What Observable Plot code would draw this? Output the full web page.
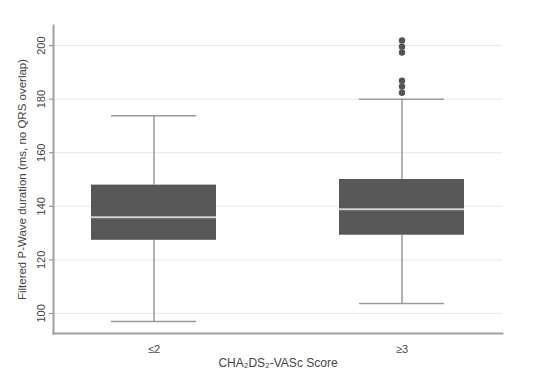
<!DOCTYPE html>
<html>
<head>
<meta charset="utf-8">
<script src="https://cdn.jsdelivr.net/npm/d3@7"></script>
<script src="https://cdn.jsdelivr.net/npm/@observablehq/plot@0.6"></script>
<style>
  html, body { margin: 0; padding: 0; background: #fff; }
  #chart svg { display: block; }
</style>
</head>
<body>
<div id="chart"></div>
<script>
const categories = ["≤2", "≥3"];
const q1 = [127.3, 129.2];
const median = [135.9, 138.9];
const q3 = [147.9, 150.0];
const whiskerLow = [97.0, 103.7];
const whiskerHigh = [173.8, 180.0];
const outlierGroup = ["≥3", "≥3", "≥3", "≥3", "≥3", "≥3"];
const outlierValue = [201.9, 199.6, 197.4, 186.9, 184.7, 182.4];
const yTicks = [100, 120, 140, 160, 180, 200];
const yTitle = "Filtered P-Wave duration (ms, no QRS overlap)";
const xTitle = "CHA₂DS₂-VASc Score";

const boxes = categories.map((c, i) => ({
  cat: c, q1: q1[i], med: median[i], q3: q3[i], lo: whiskerLow[i], hi: whiskerHigh[i]
}));
const outliers = outlierValue.map((v, i) => ({cat: outlierGroup[i], v}));

const font = "'Liberation Sans', Arial, sans-serif";

const chart = Plot.plot({
  width: 550,
  height: 390,
  marginLeft: 53,
  marginRight: 48,
  marginTop: 25,
  marginBottom: 57,
  style: {fontFamily: font, fontSize: "11px", color: "#444", background: "#fff"},
  x: {type: "band", domain: categories, paddingInner: 0.496, paddingOuter: 0.153},
  y: {domain: [92.5, 207.5]},
  marks: [
    Plot.gridY(yTicks, {stroke: "#e8e8e8", strokeOpacity: 1, strokeWidth: 1}),
    Plot.ruleX(boxes, {x: "cat", y1: "lo", y2: "q1", stroke: "#9a9a9a", strokeWidth: 1.5}),
    Plot.ruleX(boxes, {x: "cat", y1: "q3", y2: "hi", stroke: "#9a9a9a", strokeWidth: 1.5}),
    Plot.tickY(boxes, {x: "cat", y: "lo", stroke: "#9a9a9a", strokeWidth: 1.5, insetLeft: 20, insetRight: 20}),
    Plot.tickY(boxes, {x: "cat", y: "hi", stroke: "#9a9a9a", strokeWidth: 1.5, insetLeft: 20, insetRight: 20}),
    Plot.barY(boxes, {x: "cat", y1: "q1", y2: "q3", fill: "#575757"}),
    Plot.tickY(boxes, {x: "cat", y: "med", stroke: "#d0d0d0", strokeWidth: 2}),
    Plot.dot(outliers, {x: "cat", y: "v", r: 3.2, fill: "#555", stroke: "none"}),
    Plot.frame({anchor: "left", stroke: "#a0a0a0", strokeWidth: 2}),
    Plot.frame({anchor: "bottom", stroke: "#a0a0a0", strokeWidth: 2}),
    Plot.axisY(yTicks, {
      tickSize: 4, tickPadding: 5, tickRotate: -90, stroke: "#888",
      fill: "#444", fontSize: 11, label: null
    }),
    Plot.text([yTitle], {
      frameAnchor: "left", rotate: -90, dx: -31, fill: "#444",
      fontSize: 11.5, textAnchor: "middle"
    }),
    Plot.axisX({
      tickSize: 0, tickPadding: 12, fill: "#444", fontSize: 11, label: null
    }),
    Plot.text([xTitle], {
      frameAnchor: "bottom", dy: 33, fill: "#444", fontSize: 12, textAnchor: "middle"
    })
  ]
});
document.getElementById("chart").appendChild(chart);
</script>
</body>
</html>
